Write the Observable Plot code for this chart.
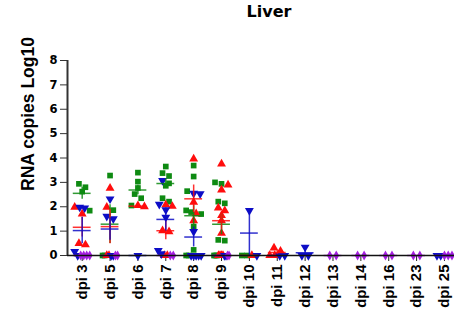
<!DOCTYPE html>
<html><head><meta charset="utf-8">
<script src="https://cdn.jsdelivr.net/npm/d3@7"></script>
<script src="https://cdn.jsdelivr.net/npm/@observablehq/plot@0.6"></script>
<style>
body{margin:0;background:#fff;width:454px;height:314px;overflow:hidden}
#title{height:24px;font:bold 16px "DejaVu Sans";text-align:center;padding-left:84px;line-height:24px;box-sizing:border-box;width:454px}
#chart svg{font-family:"Liberation Sans",Arial,sans-serif}
#chart svg text{font-weight:bold}
#chart svg g[aria-label="y-axis tick label"]{font-size:11.5px;font-family:"DejaVu Sans",sans-serif}
#chart svg g[aria-label="x-axis tick label"]{font-size:15px}
</style></head><body>
<div id="title">Liver</div>
<div id="chart"></div>
<script>
// categories
const dpis = ["dpi 3","dpi 5","dpi 6","dpi 7","dpi 8","dpi 9","dpi 10","dpi 11","dpi 12","dpi 13","dpi 14","dpi 16","dpi 23","dpi 25"];
const yTicks = [0,1,2,3,4,5,6,7,8];
const yLabel = "RNA copies Log10";
// series values (log10 RNA copies), one list per dpi
const green = [
  [2.94, 2.8, 2.62, 1.84],
  [3.28, 1.86, 0, 0],
  [3.4, 3.03, 2.77, 2.52, 2.35, 2.05],
  [3.65, 3.38, 3.26, 2.96, 2.86, 2.35, 2.21],
  [3.69, 3.24, 2.64, 1.85, 1.78, 1.7, 1.19, 0.23, 0, 0],
  [3.0, 2.94, 2.21, 2.14, 0.64, 0.61, 0, 0, 0],
  [0, 0],
  [], [], [], [], [], [], []
];
const red = [
  [1.98, 1.71, 0.5, 0.44],
  [2.76, 1.98, 0, 0],
  [2.05, 2.0],
  [2.08, 2.02, 1.02, 0.98, 0, 0],
  [3.96, 2.19, 1.72, 1.43],
  [3.76, 2.9, 2.69, 1.95, 1.84, 1.64, 1.43, 0.92, 0, 0, 0, 0],
  [0],
  [0.31, 0.18, 0, 0],
  [], [], [], [], [], []
];
const blue = [
  [1.98, 1.95, 0.16, 0],
  [2.32, 1.61, 1.5, 0, 0],
  [0],
  [3.07, 2.1, 1.87, 1.57, 0.2, 0.07],
  [2.55, 2.53, 0.98, 0, 0, 0, 0, 0],
  [0, 0],
  [1.84, 0],
  [0, 0],
  [0.34, 0, 0],
  [], [], [], [],
  [0, 0]
];
const purple = [
  [0, 0, 0, 0],
  [0, 0],
  [],
  [0, 0],
  [],
  [0, 0],
  [], [], [],
  [0, 0],
  [0, 0],
  [0, 0],
  [0, 0],
  [0, 0, 0]
];

const series = [
  {name:"green", vals:green, color:"#0e8a12", symbol:"square", rotate:0, r:3.2},
  {name:"red", vals:red, color:"#ff0d0d", symbol:"triangle", rotate:0, r:3.3},
  {name:"blue", vals:blue, color:"#0d0dc6", symbol:"triangle", rotate:180, r:3.3},
  {name:"purple", vals:purple, color:"#a61fe2", symbol:"diamond", rotate:0, r:3.0}
];

const xDomain = [-0.527, 13.36];
const width = 454, height = 290, mL = 67, mR = 0, mT = 36, mB = 59;
const pxPerX = (width - mL - mR) / (xDomain[1] - xDomain[0]);
const pxPerY = (height - mT - mB) / 8;

// points and scatter layout (rows of near-equal values spread symmetrically)
const points = [];
series.forEach((s, si) => s.vals.forEach((arr, i) => arr.forEach(v => points.push({s: s.name, si, i, v}))));
for (let i = 0; i < dpis.length; i++) {
  const pts = points.filter(p => p.i === i).sort((a, b) => b.v - a.v || a.si - b.si);
  let k = 0;
  while (k < pts.length) {
    const row = [pts[k]];
    let j = k + 1;
    while (j < pts.length && (pts[k].v - pts[j].v) * pxPerY < 5) { row.push(pts[j]); j++; }
    const n = row.length;
    const sp = n > 1 ? Math.min(6.5, 15 / (n - 1)) : 0;
    row.forEach((p, q) => { p.x = i + ((q - (n - 1) / 2) * sp) / pxPerX; });
    k = j;
  }
}

// summary statistics: mean and SEM
const stats = [];
series.forEach(s => s.vals.forEach((arr, i) => {
  if (!arr.length) return;
  const m = d3.mean(arr);
  const sem = arr.length > 1 ? d3.deviation(arr) / Math.sqrt(arr.length) : 0;
  stats.push({s: s.name, i, mean: m, lo: Math.max(0, m - sem), hi: m + sem, sem});
}));

const marks = [
  Plot.axisY({ticks: yTicks, tickSize: 7, tickPadding: 3, fontSize: 11.5, fontWeight: "bold", label: null, stroke: "#333"}),
  Plot.axisX({ticks: d3.range(dpis.length), tickFormat: i => dpis[i], tickRotate: -90, tickSize: 6, tickPadding: 3, fontSize: 15, fontWeight: "bold", label: null, stroke: "#222"}),
  Plot.text([yLabel], {frameAnchor: "left", dx: -39.5, dy: 33, rotate: -90, fontSize: 17.5, fontWeight: "bold", fill: "#000"}),
  Plot.ruleX([xDomain[0]], {y1: 0, y2: 8, stroke: "#333", strokeWidth: 2})
];
series.forEach(s => {
  marks.push(Plot.dot(points.filter(p => p.s === s.name), {x: "x", y: "v", symbol: s.symbol, fill: s.color, stroke: "none", r: s.r, rotate: s.rotate}));
});
series.forEach(s => {
  const st = stats.filter(d => d.s === s.name);
  marks.push(Plot.ruleX(st.filter(d => d.sem > 0), {x: "i", y1: "lo", y2: "hi", stroke: s.color, strokeWidth: 1.5, strokeOpacity: 0.85}));
  marks.push(Plot.ruleY(st, {y: "mean", x1: d => d.i - 0.32, x2: d => d.i + 0.32, stroke: s.color, strokeWidth: 1.5, strokeOpacity: 0.85}));
});
marks.push(Plot.ruleY([0], {x1: xDomain[0], x2: xDomain[1], stroke: "#111", strokeWidth: 1.5}));

const chart = Plot.plot({
  width, height, marginLeft: mL, marginRight: mR, marginTop: mT, marginBottom: mB,
  x: {domain: xDomain, axis: null},
  y: {domain: [0, 8], axis: null},
  style: {fontFamily: "Liberation Sans, Arial, sans-serif", color: "#000", background: "#fff", overflow: "visible"},
  marks
});
document.getElementById("chart").append(chart);
</script>
</body></html>
